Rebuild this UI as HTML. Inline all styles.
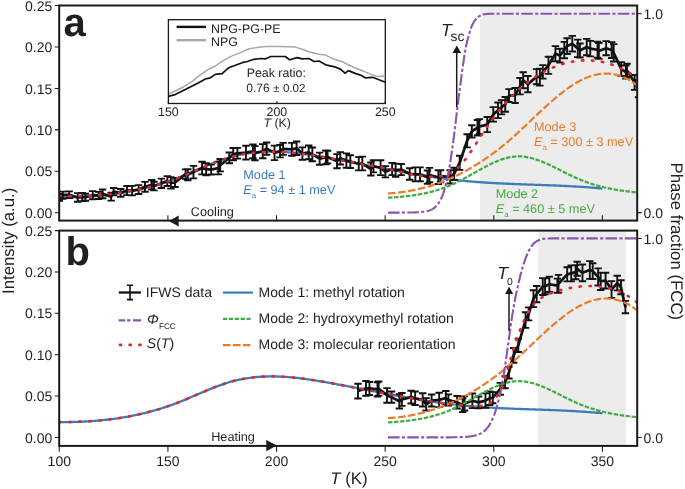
<!DOCTYPE html><html><head><meta charset="utf-8"><title>IFWS</title><style>html,body{margin:0;padding:0;background:#fff;}svg{display:block;will-change:transform;}text{text-rendering:geometricPrecision;font-family:"Liberation Sans",sans-serif;fill:#1f1f1f;}</style></head><body>
<svg width="685" height="489" viewBox="0 0 685 489">
<defs><clipPath id="ca"><rect x="59.2" y="5.5" width="578" height="215.1"/></clipPath><clipPath id="cb"><rect x="59.2" y="230.6" width="578" height="215.3"/></clipPath></defs>
<rect width="685" height="489" fill="#fff"/>
<rect x="480.0" y="5.5" width="157.2" height="215.1" fill="#ececec"/>
<rect x="538.2" y="230.6" width="87.8" height="215.3" fill="#ececec"/>
<g clip-path="url(#ca)"><path d="M59.30,197.39 L61.12,197.40 L62.93,197.40 L64.75,197.39 L66.57,197.38 L68.38,197.36 L70.20,197.33 L72.01,197.29 L73.83,197.25 L75.65,197.20 L77.46,197.14 L79.28,197.08 L81.10,197.00 L82.91,196.92 L84.73,196.83 L86.55,196.73 L88.36,196.62 L90.18,196.51 L91.99,196.38 L93.81,196.25 L95.63,196.11 L97.44,195.96 L99.26,195.80 L101.08,195.63 L102.89,195.45 L104.71,195.26 L106.53,195.06 L108.34,194.85 L110.16,194.63 L111.98,194.40 L113.79,194.15 L115.61,193.90 L117.42,193.64 L119.24,193.37 L121.06,193.08 L122.87,192.79 L124.69,192.48 L126.51,192.16 L128.32,191.83 L130.14,191.49 L131.96,191.14 L133.77,190.78 L135.59,190.40 L137.40,190.01 L139.22,189.61 L141.04,189.19 L142.85,188.77 L144.67,188.33 L146.49,187.87 L148.30,187.41 L150.12,186.93 L151.94,186.44 L153.75,185.93 L155.57,185.41 L157.38,184.88 L159.20,184.33 L161.02,183.77 L162.83,183.19 L164.65,182.60 L166.47,182.00 L168.28,181.38 L170.10,180.74 L171.92,180.10 L173.73,179.43 L175.55,178.75 L177.37,178.06 L179.18,177.35 L181.00,176.63 L182.81,175.89 L184.63,175.14 L186.45,174.39 L188.26,173.62 L190.08,172.85 L191.90,172.07 L193.71,171.29 L195.53,170.51 L197.35,169.73 L199.16,168.94 L200.98,168.16 L202.79,167.39 L204.61,166.62 L206.43,165.85 L208.24,165.10 L210.06,164.35 L211.88,163.61 L213.69,162.89 L215.51,162.18 L217.33,161.49 L219.14,160.81 L220.96,160.16 L222.77,159.52 L224.59,158.91 L226.41,158.31 L228.22,157.75 L230.04,157.20 L231.86,156.69 L233.67,156.20 L235.49,155.74 L237.31,155.31 L239.12,154.91 L240.94,154.53 L242.76,154.18 L244.57,153.85 L246.39,153.55 L248.20,153.27 L250.02,153.01 L251.84,152.78 L253.65,152.57 L255.47,152.38 L257.29,152.22 L259.10,152.08 L260.92,151.95 L262.74,151.85 L264.55,151.77 L266.37,151.71 L268.18,151.66 L270.00,151.64 L271.82,151.63 L273.63,151.64 L275.45,151.67 L277.27,151.72 L279.08,151.78 L280.90,151.86 L282.72,151.95 L284.53,152.05 L286.35,152.18 L288.16,152.31 L289.98,152.46 L291.80,152.62 L293.61,152.80 L295.43,152.98 L297.25,153.18 L299.06,153.39 L300.88,153.61 L302.70,153.84 L304.51,154.08 L306.33,154.33 L308.15,154.58 L309.96,154.85 L311.78,155.12 L313.59,155.40 L315.41,155.69 L317.23,155.98 L319.04,156.28 L320.86,156.59 L322.68,156.90 L324.49,157.21 L326.31,157.53 L328.13,157.85 L329.94,158.17 L331.76,158.50 L333.57,158.83 L335.39,159.16 L337.21,159.50 L339.02,159.83 L340.84,160.17 L342.66,160.51 L344.47,160.85 L346.29,161.20 L348.11,161.54 L349.92,161.89 L351.74,162.24 L353.55,162.58 L355.37,162.93 L357.19,163.28 L359.00,163.63 L360.82,163.98 L362.64,164.34 L364.45,164.69 L366.27,165.04 L368.09,165.39 L369.90,165.74 L371.72,166.10 L373.54,166.45 L375.35,166.80 L377.17,167.15 L378.98,167.50 L380.80,167.85 L382.62,168.20 L384.43,168.54 L386.25,168.89 L388.07,169.23 L389.88,169.58 L391.70,169.92 L393.52,170.26 L395.33,170.60 L397.15,170.93 L398.96,171.27 L400.78,171.60 L402.60,171.93 L404.41,172.26 L406.23,172.58 L408.05,172.91 L409.86,173.22 L411.68,173.54 L413.50,173.85 L415.31,174.17 L417.13,174.47 L418.94,174.78 L420.76,175.08 L422.58,175.37 L424.39,175.67 L426.21,175.95 L428.03,176.24 L429.84,176.52 L431.66,176.80 L433.48,177.07 L435.29,177.34 L437.11,177.60 L438.93,177.86 L440.74,178.11 L442.56,178.36 L444.37,178.60 L446.19,178.84 L448.01,179.07 L449.82,179.30 L451.64,179.52 L453.46,179.74 L455.27,179.95 L457.09,180.15 L458.91,180.35 L460.72,180.54 L462.54,180.73 L464.35,180.91 L466.17,181.08 L467.99,181.25 L469.80,181.41 L471.62,181.56 L473.44,181.71 L475.25,181.86 L477.07,182.00 L478.89,182.14 L480.70,182.27 L482.52,182.39 L484.33,182.51 L486.15,182.63 L487.97,182.75 L489.78,182.86 L491.60,182.96 L493.42,183.06 L495.23,183.16 L497.05,183.26 L498.87,183.35 L500.68,183.44 L502.50,183.52 L504.32,183.61 L506.13,183.69 L507.95,183.77 L509.76,183.84 L511.58,183.92 L513.40,183.99 L515.21,184.06 L517.03,184.13 L518.85,184.20 L520.66,184.27 L522.48,184.33 L524.30,184.40 L526.11,184.46 L527.93,184.53 L529.74,184.59 L531.56,184.65 L533.38,184.71 L535.19,184.78 L537.01,184.84 L538.83,184.90 L540.64,184.97 L542.46,185.03 L544.28,185.10 L546.09,185.16 L547.91,185.23 L549.72,185.30 L551.54,185.37 L553.36,185.44 L555.17,185.51 L556.99,185.59 L558.81,185.67 L560.62,185.75 L562.44,185.83 L564.26,185.91 L566.07,186.00 L567.89,186.09 L569.71,186.19 L571.52,186.28 L573.34,186.38 L575.15,186.49 L576.97,186.59 L578.79,186.70 L580.60,186.82 L582.42,186.94 L584.24,187.06 L586.05,187.19 L587.87,187.33 L589.69,187.46 L591.50,187.61 L593.32,187.75 L595.13,187.91 L596.95,188.07 L598.77,188.23 L600.58,188.40 L602.40,188.58" fill="none" stroke="#3a7bbd" stroke-width="2.3"/>
<path d="M59.30,197.45 L62.82,195.21 L69.22,194.66 L77.72,197.41 L82.24,197.09 L85.39,197.27 L92.75,195.21 L98.61,195.45 L102.62,193.90 L111.17,196.73 L113.65,191.67 L120.69,192.84 L126.96,190.56 L132.15,190.63 L138.58,189.52 L144.98,186.85 L151.72,184.72 L153.93,186.06 L161.41,183.30 L167.29,181.05 L170.87,182.87 L175.02,182.47 L185.59,174.12 L187.79,174.73 L193.50,172.10 L202.07,168.08 L206.14,169.20 L211.19,169.59 L218.36,168.03 L220.21,165.20 L229.28,157.87 L233.22,154.12 L237.41,153.29 L245.94,152.66 L252.95,151.39 L254.90,153.17 L262.68,151.21 L266.62,148.64 L274.51,152.86 L280.04,151.20 L283.11,148.91 L291.85,149.32 L296.61,148.27 L302.37,153.56 L308.70,152.35 L312.34,154.40 L319.65,158.69 L325.89,157.34 L327.57,157.02 L337.00,161.20 L340.32,158.32 L346.38,160.51 L350.32,161.64 L358.76,163.74 L362.32,163.54 L370.90,168.99 L373.50,166.29 L380.59,167.70 L385.39,171.75 L392.11,169.01 L395.62,170.21 L401.17,169.56 L409.68,173.98 L415.34,174.40 L420.03,174.36 L427.46,177.12 L429.46,175.01 L438.37,177.19 L440.53,176.20 L450.21,176.86 L454.11,173.90 L459.65,162.86 L467.13,140.77 L471.83,131.40 L477.47,127.70 L479.36,126.54 L487.26,124.57 L493.27,114.38 L498.01,110.36 L501.50,107.23 L505.26,104.37 L509.01,95.56 L515.12,95.51 L519.95,86.25 L523.15,80.22 L527.89,84.13 L536.61,76.67 L539.88,77.14 L542.85,71.89 L548.41,65.29 L555.41,53.70 L559.81,55.59 L564.31,50.07 L567.14,46.10 L572.28,43.71 L577.78,48.35 L579.92,50.49 L586.72,47.06 L590.25,48.63 L597.53,49.77 L598.83,50.96 L606.14,48.21 L611.67,50.05 L613.69,52.80 L621.22,69.09 L625.85,72.08 L626.99,70.35 L634.61,82.44 L638.46,88.82" fill="none" stroke="#111" stroke-width="2.7" stroke-linejoin="round"/>
<path d="M59.30,194.07V200.82M55.60,194.07h7.4M55.60,200.82h7.4M62.82,191.65V198.78M59.12,191.65h7.4M59.12,198.78h7.4M69.22,191.36V197.97M65.52,191.36h7.4M65.52,197.97h7.4M77.72,193.11V201.70M74.02,193.11h7.4M74.02,201.70h7.4M82.24,193.01V201.17M78.54,193.01h7.4M78.54,201.17h7.4M85.39,193.72V200.82M81.69,193.72h7.4M81.69,200.82h7.4M92.75,191.14V199.27M89.05,191.14h7.4M89.05,199.27h7.4M98.61,191.84V199.06M94.91,191.84h7.4M94.91,199.06h7.4M102.62,189.57V198.24M98.92,189.57h7.4M98.92,198.24h7.4M111.17,192.81V200.64M107.47,192.81h7.4M107.47,200.64h7.4M113.65,187.93V195.42M109.95,187.93h7.4M109.95,195.42h7.4M120.69,188.94V196.75M116.99,188.94h7.4M116.99,196.75h7.4M126.96,185.98V195.15M123.26,185.98h7.4M123.26,195.15h7.4M132.15,185.87V195.39M128.45,185.87h7.4M128.45,195.39h7.4M138.58,185.11V193.94M134.88,185.11h7.4M134.88,193.94h7.4M144.98,181.88V191.82M141.28,181.88h7.4M141.28,191.82h7.4M151.72,180.07V189.37M148.02,180.07h7.4M148.02,189.37h7.4M153.93,181.73V190.40M150.23,181.73h7.4M150.23,190.40h7.4M161.41,178.59V188.02M157.71,178.59h7.4M157.71,188.02h7.4M167.29,176.12V185.98M163.59,176.12h7.4M163.59,185.98h7.4M170.87,177.13V188.61M167.17,177.13h7.4M167.17,188.61h7.4M175.02,177.90V187.03M171.32,177.90h7.4M171.32,187.03h7.4M185.59,169.41V178.84M181.89,169.41h7.4M181.89,178.84h7.4M187.79,169.23V180.22M184.09,169.23h7.4M184.09,180.22h7.4M193.50,165.84V178.36M189.80,165.84h7.4M189.80,178.36h7.4M202.07,161.75V174.41M198.37,161.75h7.4M198.37,174.41h7.4M206.14,163.18V175.21M202.44,163.18h7.4M202.44,175.21h7.4M211.19,164.61V174.57M207.49,164.61h7.4M207.49,174.57h7.4M218.36,161.67V174.40M214.66,161.67h7.4M214.66,174.40h7.4M220.21,158.99V171.40M216.51,158.99h7.4M216.51,171.40h7.4M229.28,152.45V163.30M225.58,152.45h7.4M225.58,163.30h7.4M233.22,148.02V160.22M229.52,148.02h7.4M229.52,160.22h7.4M237.41,147.91V158.67M233.71,147.91h7.4M233.71,158.67h7.4M245.94,145.76V159.56M242.24,145.76h7.4M242.24,159.56h7.4M252.95,144.55V158.24M249.25,144.55h7.4M249.25,158.24h7.4M254.90,146.16V160.18M251.20,146.16h7.4M251.20,160.18h7.4M262.68,144.16V158.26M258.98,144.16h7.4M258.98,158.26h7.4M266.62,142.49V154.79M262.92,142.49h7.4M262.92,154.79h7.4M274.51,145.63V160.09M270.81,145.63h7.4M270.81,160.09h7.4M280.04,145.01V157.39M276.34,145.01h7.4M276.34,157.39h7.4M283.11,142.92V154.90M279.41,142.92h7.4M279.41,154.90h7.4M291.85,142.83V155.82M288.15,142.83h7.4M288.15,155.82h7.4M296.61,141.55V155.00M292.91,141.55h7.4M292.91,155.00h7.4M302.37,147.33V159.80M298.67,147.33h7.4M298.67,159.80h7.4M308.70,145.45V159.24M305.00,145.45h7.4M305.00,159.24h7.4M312.34,147.54V161.26M308.64,147.54h7.4M308.64,161.26h7.4M319.65,152.60V164.77M315.95,152.60h7.4M315.95,164.77h7.4M325.89,150.48V164.20M322.19,150.48h7.4M322.19,164.20h7.4M327.57,150.68V163.36M323.87,150.68h7.4M323.87,163.36h7.4M337.00,154.16V168.24M333.30,154.16h7.4M333.30,168.24h7.4M340.32,152.12V164.51M336.62,152.12h7.4M336.62,164.51h7.4M346.38,153.34V167.69M342.68,153.34h7.4M342.68,167.69h7.4M350.32,155.24V168.04M346.62,155.24h7.4M346.62,168.04h7.4M358.76,157.09V170.39M355.06,157.09h7.4M355.06,170.39h7.4M362.32,156.65V170.42M358.62,156.65h7.4M358.62,170.42h7.4M370.90,162.47V175.51M367.20,162.47h7.4M367.20,175.51h7.4M373.50,160.25V172.33M369.80,160.25h7.4M369.80,172.33h7.4M380.59,160.27V175.13M376.89,160.27h7.4M376.89,175.13h7.4M385.39,166.08V177.41M381.69,166.08h7.4M381.69,177.41h7.4M392.11,162.87V175.15M388.41,162.87h7.4M388.41,175.15h7.4M395.62,163.65V176.77M391.92,163.65h7.4M391.92,176.77h7.4M401.17,164.01V175.12M397.47,164.01h7.4M397.47,175.12h7.4M409.68,168.23V179.74M405.98,168.23h7.4M405.98,179.74h7.4M415.34,167.41V181.40M411.64,167.41h7.4M411.64,181.40h7.4M420.03,167.39V181.32M416.33,167.39h7.4M416.33,181.32h7.4M427.46,170.48V183.77M423.76,170.48h7.4M423.76,183.77h7.4M429.46,167.83V182.19M425.76,167.83h7.4M425.76,182.19h7.4M438.37,170.32V184.06M434.67,170.32h7.4M434.67,184.06h7.4M440.53,170.19V182.21M436.83,170.19h7.4M436.83,182.21h7.4M450.21,170.20V183.53M446.51,170.20h7.4M446.51,183.53h7.4M454.11,167.79V180.02M450.41,167.79h7.4M450.41,180.02h7.4M459.65,155.82V169.91M455.95,155.82h7.4M455.95,169.91h7.4M467.13,134.19V147.36M463.43,134.19h7.4M463.43,147.36h7.4M471.83,125.19V137.61M468.13,125.19h7.4M468.13,137.61h7.4M477.47,119.94V135.46M473.77,119.94h7.4M473.77,135.46h7.4M479.36,119.15V133.93M475.66,119.15h7.4M475.66,133.93h7.4M487.26,117.04V132.10M483.56,117.04h7.4M483.56,132.10h7.4M493.27,107.12V121.64M489.57,107.12h7.4M489.57,121.64h7.4M498.01,102.57V118.15M494.31,102.57h7.4M494.31,118.15h7.4M501.50,100.13V114.34M497.80,100.13h7.4M497.80,114.34h7.4M505.26,96.97V111.77M501.56,96.97h7.4M501.56,111.77h7.4M509.01,89.17V101.96M505.31,89.17h7.4M505.31,101.96h7.4M515.12,88.03V103.00M511.42,88.03h7.4M511.42,103.00h7.4M519.95,78.07V94.42M516.25,78.07h7.4M516.25,94.42h7.4M523.15,72.21V88.23M519.45,72.21h7.4M519.45,88.23h7.4M527.89,75.95V92.30M524.19,75.95h7.4M524.19,92.30h7.4M536.61,69.09V84.24M532.91,69.09h7.4M532.91,84.24h7.4M539.88,68.69V85.58M536.18,68.69h7.4M536.18,85.58h7.4M542.85,65.14V78.63M539.15,65.14h7.4M539.15,78.63h7.4M548.41,56.69V73.88M544.71,56.69h7.4M544.71,73.88h7.4M555.41,46.14V61.25M551.71,46.14h7.4M551.71,61.25h7.4M559.81,48.71V62.47M556.11,48.71h7.4M556.11,62.47h7.4M564.31,41.89V58.26M560.61,41.89h7.4M560.61,58.26h7.4M567.14,38.25V53.94M563.44,38.25h7.4M563.44,53.94h7.4M572.28,35.91V51.52M568.58,35.91h7.4M568.58,51.52h7.4M577.78,39.58V57.11M574.08,39.58h7.4M574.08,57.11h7.4M579.92,43.45V57.53M576.22,43.45h7.4M576.22,57.53h7.4M586.72,38.84V55.28M583.02,38.84h7.4M583.02,55.28h7.4M590.25,40.91V56.35M586.55,40.91h7.4M586.55,56.35h7.4M597.53,41.80V57.75M593.83,41.80h7.4M593.83,57.75h7.4M598.83,43.06V58.85M595.13,43.06h7.4M595.13,58.85h7.4M606.14,41.16V55.27M602.44,41.16h7.4M602.44,55.27h7.4M611.67,42.12V57.98M607.97,42.12h7.4M607.97,57.98h7.4M613.69,44.08V61.53M609.99,44.08h7.4M609.99,61.53h7.4M621.22,62.17V76.01M617.52,62.17h7.4M617.52,76.01h7.4M625.85,65.56V78.61M622.15,65.56h7.4M622.15,78.61h7.4M626.99,63.68V77.02M623.29,63.68h7.4M623.29,77.02h7.4M634.61,75.01V89.86M630.91,75.01h7.4M630.91,89.86h7.4M638.46,80.32V97.32M634.76,80.32h7.4M634.76,97.32h7.4" fill="none" stroke="#111" stroke-width="1.9"/>
<path d="M387.98,197.73 L389.03,197.66 L390.07,197.60 L391.11,197.53 L392.16,197.46 L393.20,197.39 L394.24,197.32 L395.29,197.24 L396.33,197.16 L397.37,197.08 L398.42,197.00 L399.46,196.91 L400.50,196.82 L401.55,196.72 L402.59,196.62 L403.63,196.52 L404.67,196.41 L405.72,196.30 L406.76,196.18 L407.80,196.06 L408.85,195.94 L409.89,195.80 L410.93,195.67 L411.98,195.53 L413.02,195.38 L414.06,195.23 L415.11,195.07 L416.15,194.91 L417.19,194.74 L418.24,194.57 L419.28,194.39 L420.32,194.20 L421.37,194.00 L422.41,193.80 L423.45,193.59 L424.49,193.38 L425.54,193.16 L426.58,192.93 L427.62,192.69 L428.67,192.44 L429.71,192.19 L430.75,191.93 L431.80,191.66 L432.84,191.39 L433.88,191.10 L434.93,190.81 L435.97,190.50 L437.01,190.19 L438.06,189.87 L439.10,189.54 L440.14,189.20 L441.19,188.85 L442.23,188.49 L443.27,188.12 L444.31,187.75 L445.36,187.36 L446.40,186.96 L447.44,186.55 L448.49,186.13 L449.53,185.70 L450.57,185.26 L451.62,184.80 L452.66,184.34 L453.70,183.86 L454.75,183.38 L455.79,182.88 L456.83,182.37 L457.88,181.85 L458.92,181.32 L459.96,180.79 L461.01,180.24 L462.05,179.69 L463.09,179.13 L464.13,178.57 L465.18,178.00 L466.22,177.42 L467.26,176.84 L468.31,176.26 L469.35,175.67 L470.39,175.08 L471.44,174.49 L472.48,173.90 L473.52,173.31 L474.57,172.72 L475.61,172.13 L476.65,171.54 L477.70,170.95 L478.74,170.37 L479.78,169.79 L480.83,169.21 L481.87,168.64 L482.91,168.07 L483.96,167.51 L485.00,166.95 L486.04,166.40 L487.08,165.86 L488.13,165.33 L489.17,164.81 L490.21,164.30 L491.26,163.79 L492.30,163.30 L493.34,162.82 L494.39,162.35 L495.43,161.90 L496.47,161.45 L497.52,161.02 L498.56,160.61 L499.60,160.21 L500.65,159.83 L501.69,159.46 L502.73,159.11 L503.78,158.78 L504.82,158.47 L505.86,158.18 L506.90,157.90 L507.95,157.65 L508.99,157.42 L510.03,157.20 L511.08,157.02 L512.12,156.85 L513.16,156.71 L514.21,156.59 L515.25,156.49 L516.29,156.43 L517.34,156.38 L518.38,156.37 L519.42,156.38 L520.47,156.41 L521.51,156.47 L522.55,156.55 L523.60,156.66 L524.64,156.78 L525.68,156.93 L526.72,157.10 L527.77,157.30 L528.81,157.51 L529.85,157.74 L530.90,157.99 L531.94,158.26 L532.98,158.54 L534.03,158.85 L535.07,159.17 L536.11,159.50 L537.16,159.85 L538.20,160.21 L539.24,160.59 L540.29,160.98 L541.33,161.39 L542.37,161.80 L543.42,162.23 L544.46,162.67 L545.50,163.12 L546.54,163.58 L547.59,164.04 L548.63,164.52 L549.67,165.00 L550.72,165.49 L551.76,165.99 L552.80,166.49 L553.85,167.00 L554.89,167.51 L555.93,168.03 L556.98,168.55 L558.02,169.07 L559.06,169.59 L560.11,170.12 L561.15,170.64 L562.19,171.17 L563.24,171.70 L564.28,172.22 L565.32,172.75 L566.36,173.27 L567.41,173.79 L568.45,174.30 L569.49,174.81 L570.54,175.32 L571.58,175.82 L572.62,176.32 L573.67,176.80 L574.71,177.29 L575.75,177.76 L576.80,178.23 L577.84,178.68 L578.88,179.13 L579.93,179.57 L580.97,179.99 L582.01,180.41 L583.06,180.82 L584.10,181.22 L585.14,181.61 L586.19,181.99 L587.23,182.37 L588.27,182.73 L589.31,183.09 L590.36,183.43 L591.40,183.77 L592.44,184.10 L593.49,184.43 L594.53,184.74 L595.57,185.05 L596.62,185.35 L597.66,185.64 L598.70,185.93 L599.75,186.21 L600.79,186.48 L601.83,186.74 L602.88,187.00 L603.92,187.25 L604.96,187.49 L606.01,187.73 L607.05,187.96 L608.09,188.19 L609.13,188.40 L610.18,188.62 L611.22,188.82 L612.26,189.02 L613.31,189.22 L614.35,189.41 L615.39,189.60 L616.44,189.78 L617.48,189.95 L618.52,190.12 L619.57,190.29 L620.61,190.45 L621.65,190.60 L622.70,190.75 L623.74,190.90 L624.78,191.05 L625.83,191.18 L626.87,191.32 L627.91,191.45 L628.95,191.58 L630.00,191.70 L631.04,191.83 L632.08,191.94 L633.13,192.06 L634.17,192.17 L635.21,192.28 L636.26,192.39 L637.30,192.49" fill="none" stroke="#41ac41" stroke-width="2.2" stroke-dasharray="4.5 1.5"/>
<path d="M387.98,193.42 L389.03,193.36 L390.07,193.30 L391.11,193.23 L392.16,193.15 L393.20,193.07 L394.24,192.98 L395.29,192.88 L396.33,192.78 L397.37,192.67 L398.42,192.55 L399.46,192.43 L400.50,192.31 L401.55,192.17 L402.59,192.03 L403.63,191.88 L404.67,191.73 L405.72,191.57 L406.76,191.41 L407.80,191.23 L408.85,191.05 L409.89,190.87 L410.93,190.68 L411.98,190.48 L413.02,190.27 L414.06,190.06 L415.11,189.84 L416.15,189.62 L417.19,189.39 L418.24,189.15 L419.28,188.90 L420.32,188.65 L421.37,188.39 L422.41,188.13 L423.45,187.85 L424.49,187.57 L425.54,187.29 L426.58,187.00 L427.62,186.70 L428.67,186.39 L429.71,186.08 L430.75,185.76 L431.80,185.43 L432.84,185.09 L433.88,184.75 L434.93,184.41 L435.97,184.05 L437.01,183.69 L438.06,183.32 L439.10,182.94 L440.14,182.56 L441.19,182.17 L442.23,181.77 L443.27,181.37 L444.31,180.96 L445.36,180.54 L446.40,180.11 L447.44,179.68 L448.49,179.24 L449.53,178.79 L450.57,178.33 L451.62,177.87 L452.66,177.40 L453.70,176.92 L454.75,176.44 L455.79,175.95 L456.83,175.45 L457.88,174.94 L458.92,174.43 L459.96,173.91 L461.01,173.38 L462.05,172.84 L463.09,172.30 L464.13,171.75 L465.18,171.19 L466.22,170.62 L467.26,170.05 L468.31,169.47 L469.35,168.88 L470.39,168.28 L471.44,167.67 L472.48,167.06 L473.52,166.44 L474.57,165.81 L475.61,165.18 L476.65,164.54 L477.70,163.88 L478.74,163.23 L479.78,162.56 L480.83,161.89 L481.87,161.20 L482.91,160.51 L483.96,159.81 L485.00,159.11 L486.04,158.40 L487.08,157.67 L488.13,156.94 L489.17,156.21 L490.21,155.46 L491.26,154.71 L492.30,153.94 L493.34,153.17 L494.39,152.40 L495.43,151.61 L496.47,150.82 L497.52,150.01 L498.56,149.20 L499.60,148.39 L500.65,147.56 L501.69,146.72 L502.73,145.88 L503.78,145.03 L504.82,144.17 L505.86,143.30 L506.90,142.43 L507.95,141.54 L508.99,140.65 L510.03,139.75 L511.08,138.84 L512.12,137.92 L513.16,136.99 L514.21,136.06 L515.25,135.12 L516.29,134.18 L517.34,133.23 L518.38,132.27 L519.42,131.31 L520.47,130.35 L521.51,129.38 L522.55,128.40 L523.60,127.43 L524.64,126.45 L525.68,125.47 L526.72,124.48 L527.77,123.49 L528.81,122.51 L529.85,121.52 L530.90,120.53 L531.94,119.54 L532.98,118.55 L534.03,117.56 L535.07,116.57 L536.11,115.59 L537.16,114.60 L538.20,113.62 L539.24,112.64 L540.29,111.67 L541.33,110.69 L542.37,109.72 L543.42,108.76 L544.46,107.80 L545.50,106.84 L546.54,105.89 L547.59,104.95 L548.63,104.01 L549.67,103.08 L550.72,102.16 L551.76,101.24 L552.80,100.33 L553.85,99.43 L554.89,98.54 L555.93,97.66 L556.98,96.79 L558.02,95.92 L559.06,95.07 L560.11,94.23 L561.15,93.40 L562.19,92.58 L563.24,91.77 L564.28,90.97 L565.32,90.19 L566.36,89.42 L567.41,88.67 L568.45,87.92 L569.49,87.20 L570.54,86.48 L571.58,85.78 L572.62,85.10 L573.67,84.44 L574.71,83.79 L575.75,83.15 L576.80,82.54 L577.84,81.94 L578.88,81.36 L579.93,80.79 L580.97,80.25 L582.01,79.72 L583.06,79.22 L584.10,78.73 L585.14,78.27 L586.19,77.83 L587.23,77.40 L588.27,77.00 L589.31,76.62 L590.36,76.26 L591.40,75.92 L592.44,75.60 L593.49,75.31 L594.53,75.03 L595.57,74.78 L596.62,74.55 L597.66,74.35 L598.70,74.17 L599.75,74.01 L600.79,73.87 L601.83,73.76 L602.88,73.67 L603.92,73.61 L604.96,73.57 L606.01,73.55 L607.05,73.56 L608.09,73.60 L609.13,73.65 L610.18,73.74 L611.22,73.85 L612.26,73.99 L613.31,74.15 L614.35,74.34 L615.39,74.55 L616.44,74.79 L617.48,75.06 L618.52,75.35 L619.57,75.67 L620.61,76.02 L621.65,76.40 L622.70,76.80 L623.74,77.24 L624.78,77.70 L625.83,78.19 L626.87,78.71 L627.91,79.25 L628.95,79.83 L630.00,80.43 L631.04,81.07 L632.08,81.73 L633.13,82.43 L634.17,83.15 L635.21,83.91 L636.26,84.69 L637.30,85.51" fill="none" stroke="#ea7d2c" stroke-width="2.2" stroke-dasharray="7.6 2.5"/>
<path d="M387.98,212.60 L389.03,212.60 L390.07,212.60 L391.11,212.60 L392.16,212.60 L393.20,212.59 L394.24,212.59 L395.29,212.59 L396.33,212.59 L397.37,212.59 L398.42,212.59 L399.46,212.58 L400.50,212.58 L401.55,212.58 L402.59,212.57 L403.63,212.57 L404.67,212.56 L405.72,212.56 L406.76,212.55 L407.80,212.54 L408.85,212.53 L409.89,212.51 L410.93,212.50 L411.98,212.48 L413.02,212.45 L414.06,212.43 L415.11,212.39 L416.15,212.35 L417.19,212.31 L418.24,212.25 L419.28,212.19 L420.32,212.11 L421.37,212.02 L422.41,211.91 L423.45,211.78 L424.49,211.63 L425.54,211.45 L426.58,211.24 L427.62,210.98 L428.67,210.68 L429.71,210.33 L430.75,209.91 L431.80,209.41 L432.84,208.83 L433.88,208.15 L434.93,207.33 L435.97,206.37 L437.01,205.26 L438.06,203.94 L439.10,202.40 L440.14,200.63 L441.19,198.52 L442.23,196.10 L443.27,193.35 L444.31,190.13 L445.36,186.46 L446.40,182.37 L447.44,177.67 L448.49,172.42 L449.53,166.72 L450.57,160.39 L451.62,153.47 L452.66,146.15 L453.70,138.23 L454.75,129.79 L455.79,121.10 L456.83,112.47 L457.88,104.07 L458.92,95.68 L459.96,87.48 L461.01,79.51 L462.05,71.74 L463.09,64.45 L464.13,57.48 L465.18,50.99 L466.22,45.53 L467.26,41.08 L468.31,37.15 L469.35,33.30 L470.39,29.76 L471.44,26.96 L472.48,24.53 L473.52,22.45 L474.57,20.80 L475.61,19.47 L476.65,18.28 L477.70,17.27 L478.74,16.46 L479.78,15.84 L480.83,15.32 L481.87,14.87 L482.91,14.51 L483.96,14.26 L485.00,14.13 L486.04,14.03 L487.08,13.94 L488.13,13.87 L489.17,13.82 L490.21,13.80 L491.26,13.80 L492.30,13.80 L493.34,13.80 L494.39,13.80 L495.43,13.80 L496.47,13.80 L497.52,13.80 L498.56,13.80 L499.60,13.80 L500.65,13.80 L501.69,13.80 L502.73,13.80 L503.78,13.80 L504.82,13.80 L505.86,13.80 L506.90,13.80 L507.95,13.80 L508.99,13.80 L510.03,13.80 L511.08,13.80 L512.12,13.80 L513.16,13.80 L514.21,13.80 L515.25,13.80 L516.29,13.80 L517.34,13.80 L518.38,13.80 L519.42,13.80 L520.47,13.80 L521.51,13.80 L522.55,13.80 L523.60,13.80 L524.64,13.80 L525.68,13.80 L526.72,13.80 L527.77,13.80 L528.81,13.80 L529.85,13.80 L530.90,13.80 L531.94,13.80 L532.98,13.80 L534.03,13.80 L535.07,13.80 L536.11,13.80 L537.16,13.80 L538.20,13.80 L539.24,13.80 L540.29,13.80 L541.33,13.80 L542.37,13.80 L543.42,13.80 L544.46,13.80 L545.50,13.80 L546.54,13.80 L547.59,13.80 L548.63,13.80 L549.67,13.80 L550.72,13.80 L551.76,13.80 L552.80,13.80 L553.85,13.80 L554.89,13.80 L555.93,13.80 L556.98,13.80 L558.02,13.80 L559.06,13.80 L560.11,13.80 L561.15,13.80 L562.19,13.80 L563.24,13.80 L564.28,13.80 L565.32,13.80 L566.36,13.80 L567.41,13.80 L568.45,13.80 L569.49,13.80 L570.54,13.80 L571.58,13.80 L572.62,13.80 L573.67,13.80 L574.71,13.80 L575.75,13.80 L576.80,13.80 L577.84,13.80 L578.88,13.80 L579.93,13.80 L580.97,13.80 L582.01,13.80 L583.06,13.80 L584.10,13.80 L585.14,13.80 L586.19,13.80 L587.23,13.80 L588.27,13.80 L589.31,13.80 L590.36,13.80 L591.40,13.80 L592.44,13.80 L593.49,13.80 L594.53,13.80 L595.57,13.80 L596.62,13.80 L597.66,13.80 L598.70,13.80 L599.75,13.80 L600.79,13.80 L601.83,13.80 L602.88,13.80 L603.92,13.80 L604.96,13.80 L606.01,13.80 L607.05,13.80 L608.09,13.80 L609.13,13.80 L610.18,13.80 L611.22,13.80 L612.26,13.80 L613.31,13.80 L614.35,13.80 L615.39,13.80 L616.44,13.80 L617.48,13.80 L618.52,13.80 L619.57,13.80 L620.61,13.80 L621.65,13.80 L622.70,13.80 L623.74,13.80 L624.78,13.80 L625.83,13.80 L626.87,13.80 L627.91,13.80 L628.95,13.80 L630.00,13.80 L631.04,13.80 L632.08,13.80 L633.13,13.80 L634.17,13.80 L635.21,13.80 L636.26,13.80 L637.30,13.80" fill="none" stroke="#8a55b0" stroke-width="2.1" stroke-dasharray="11.6 2.3 3.1 2.3"/>
<path d="M59.30,196.14 L60.46,196.15 L61.62,196.17 L62.77,196.18 L63.93,196.19 L65.09,196.20 L66.25,196.21 L67.41,196.21 L68.57,196.21 L69.72,196.20 L70.88,196.20 L72.04,196.19 L73.20,196.18 L74.36,196.16 L75.52,196.14 L76.67,196.12 L77.83,196.10 L78.99,196.07 L80.15,196.04 L81.31,196.00 L82.47,195.97 L83.62,195.93 L84.78,195.88 L85.94,195.84 L87.10,195.79 L88.26,195.73 L89.42,195.67 L90.57,195.61 L91.73,195.55 L92.89,195.48 L94.05,195.41 L95.21,195.33 L96.37,195.25 L97.52,195.17 L98.68,195.08 L99.84,194.99 L101.00,194.90 L102.16,194.80 L103.32,194.70 L104.47,194.59 L105.63,194.48 L106.79,194.37 L107.95,194.25 L109.11,194.12 L110.27,194.00 L111.42,193.87 L112.58,193.73 L113.74,193.59 L114.90,193.45 L116.06,193.30 L117.22,193.14 L118.37,192.99 L119.53,192.82 L120.69,192.66 L121.85,192.49 L123.01,192.31 L124.17,192.13 L125.32,191.94 L126.48,191.75 L127.64,191.56 L128.80,191.36 L129.96,191.15 L131.12,190.94 L132.27,190.73 L133.43,190.51 L134.59,190.29 L135.75,190.06 L136.91,189.82 L138.07,189.58 L139.22,189.34 L140.38,189.09 L141.54,188.83 L142.70,188.57 L143.86,188.30 L145.02,188.03 L146.17,187.76 L147.33,187.47 L148.49,187.19 L149.65,186.89 L150.81,186.59 L151.97,186.29 L153.12,185.98 L154.28,185.66 L155.44,185.34 L156.60,185.01 L157.76,184.68 L158.92,184.34 L160.07,184.00 L161.23,183.65 L162.39,183.29 L163.55,182.93 L164.71,182.56 L165.87,182.18 L167.02,181.80 L168.18,181.42 L169.34,181.02 L170.50,180.63 L171.66,180.22 L172.82,179.81 L173.97,179.39 L175.13,178.97 L176.29,178.53 L177.45,178.10 L178.61,177.65 L179.76,177.20 L180.92,176.75 L182.08,176.29 L183.24,175.82 L184.40,175.35 L185.56,174.88 L186.71,174.40 L187.87,173.92 L189.03,173.43 L190.19,172.95 L191.35,172.46 L192.51,171.97 L193.66,171.47 L194.82,170.98 L195.98,170.48 L197.14,169.99 L198.30,169.49 L199.46,169.00 L200.61,168.50 L201.77,168.01 L202.93,167.52 L204.09,167.03 L205.25,166.54 L206.41,166.06 L207.56,165.58 L208.72,165.10 L209.88,164.62 L211.04,164.15 L212.20,163.69 L213.36,163.23 L214.51,162.77 L215.67,162.33 L216.83,161.88 L217.99,161.45 L219.15,161.02 L220.31,160.60 L221.46,160.18 L222.62,159.78 L223.78,159.38 L224.94,158.99 L226.10,158.61 L227.26,158.24 L228.41,157.89 L229.57,157.54 L230.73,157.20 L231.89,156.87 L233.05,156.56 L234.21,156.25 L235.36,155.96 L236.52,155.68 L237.68,155.41 L238.84,155.15 L240.00,154.90 L241.16,154.66 L242.31,154.43 L243.47,154.21 L244.63,154.00 L245.79,153.80 L246.95,153.61 L248.11,153.44 L249.26,153.27 L250.42,153.11 L251.58,152.96 L252.74,152.81 L253.90,152.68 L255.06,152.56 L256.21,152.45 L257.37,152.34 L258.53,152.24 L259.69,152.16 L260.85,152.08 L262.01,152.01 L263.16,151.94 L264.32,151.89 L265.48,151.84 L266.64,151.80 L267.80,151.77 L268.96,151.75 L270.11,151.73 L271.27,151.72 L272.43,151.72 L273.59,151.73 L274.75,151.74 L275.91,151.76 L277.06,151.79 L278.22,151.82 L279.38,151.86 L280.54,151.91 L281.70,151.96 L282.86,152.02 L284.01,152.08 L285.17,152.15 L286.33,152.23 L287.49,152.31 L288.65,152.40 L289.81,152.50 L290.96,152.59 L292.12,152.70 L293.28,152.81 L294.44,152.92 L295.60,153.04 L296.75,153.16 L297.91,153.29 L299.07,153.42 L300.23,153.56 L301.39,153.70 L302.55,153.85 L303.70,154.00 L304.86,154.15 L306.02,154.31 L307.18,154.47 L308.34,154.63 L309.50,154.80 L310.65,154.97 L311.81,155.15 L312.97,155.32 L314.13,155.50 L315.29,155.68 L316.45,155.87 L317.60,156.06 L318.76,156.25 L319.92,156.44 L321.08,156.63 L322.24,156.83 L323.40,157.03 L324.55,157.23 L325.71,157.43 L326.87,157.64 L328.03,157.84 L329.19,158.05 L330.35,158.25 L331.50,158.46 L332.66,158.67 L333.82,158.88 L334.98,159.09 L336.14,159.31 L337.30,159.52 L338.45,159.73 L339.61,159.95 L340.77,160.16 L341.93,160.38 L343.09,160.60 L344.25,160.81 L345.40,161.03 L346.56,161.25 L347.72,161.47 L348.88,161.69 L350.04,161.91 L351.20,162.13 L352.35,162.35 L353.51,162.58 L354.67,162.80 L355.83,163.02 L356.99,163.24 L358.15,163.47 L359.30,163.69 L360.46,163.92 L361.62,164.14 L362.78,164.36 L363.94,165.15 L365.10,165.21 L366.25,165.28 L367.41,165.36 L368.57,165.46 L369.73,165.57 L370.89,165.70 L372.05,165.84 L373.20,165.99 L374.36,166.15 L375.52,166.33 L376.68,166.51 L377.84,166.71 L379.00,166.91 L380.15,167.13 L381.31,167.35 L382.47,167.58 L383.63,167.82 L384.79,168.06 L385.95,168.31 L387.10,168.57 L388.26,168.83 L389.42,169.09 L390.58,169.36 L391.74,169.63 L392.90,169.91 L394.05,170.19 L395.21,170.47 L396.37,170.75 L397.53,171.03 L398.69,171.31 L399.85,171.59 L401.00,171.86 L402.16,172.14 L403.32,172.41 L404.48,172.68 L405.64,172.95 L406.79,173.22 L407.95,173.47 L409.11,173.73 L410.27,173.98 L411.43,174.22 L412.59,174.45 L413.74,174.68 L414.90,174.90 L416.06,175.11 L417.22,175.31 L418.38,175.50 L419.54,175.68 L420.69,175.85 L421.85,176.01 L423.01,176.16 L424.17,176.29 L425.33,176.41 L426.49,176.52 L427.64,176.61 L428.80,176.69 L429.96,176.75 L431.12,176.80 L432.28,176.82 L433.44,176.83 L434.59,176.80 L435.75,176.75 L436.91,176.67 L438.07,176.56 L439.23,176.42 L440.39,176.24 L441.54,176.02 L442.70,175.77 L443.86,175.46 L445.02,175.12 L446.18,174.73 L447.34,174.29 L448.49,173.79 L449.65,173.25 L450.81,172.64 L451.97,171.98 L453.13,171.26 L454.29,170.48 L455.44,169.63 L456.60,168.71 L457.76,167.73 L458.92,166.67 L460.08,165.54 L461.24,164.33 L462.39,163.05 L463.55,161.68 L464.71,160.25 L465.87,158.74 L467.03,157.18 L468.19,155.56 L469.34,153.90 L470.50,152.20 L471.66,150.46 L472.82,148.69 L473.98,146.91 L475.14,145.11 L476.29,143.30 L477.45,141.48 L478.61,139.66 L479.77,137.84 L480.93,136.03 L482.09,134.23 L483.24,132.45 L484.40,130.69 L485.56,128.96 L486.72,127.25 L487.88,125.57 L489.04,123.91 L490.19,122.28 L491.35,120.68 L492.51,119.10 L493.67,117.54 L494.83,116.01 L495.99,114.51 L497.14,113.03 L498.30,111.57 L499.46,110.14 L500.62,108.73 L501.78,107.34 L502.94,105.98 L504.09,104.65 L505.25,103.33 L506.41,102.04 L507.57,100.77 L508.73,99.53 L509.89,98.31 L511.04,97.11 L512.20,95.93 L513.36,94.78 L514.52,93.64 L515.68,92.53 L516.84,91.44 L517.99,90.38 L519.15,89.33 L520.31,88.31 L521.47,87.30 L522.63,86.32 L523.78,85.36 L524.94,84.42 L526.10,83.50 L527.26,82.60 L528.42,81.72 L529.58,80.85 L530.73,80.01 L531.89,79.19 L533.05,78.39 L534.21,77.61 L535.37,76.85 L536.53,76.10 L537.68,75.38 L538.84,74.67 L540.00,73.98 L541.16,73.31 L542.32,72.66 L543.48,72.02 L544.63,71.41 L545.79,70.81 L546.95,70.23 L548.11,69.66 L549.27,69.12 L550.43,68.59 L551.58,68.07 L552.74,67.58 L553.90,67.10 L555.06,66.63 L556.22,66.19 L557.38,65.75 L558.53,65.34 L559.69,64.94 L560.85,64.56 L562.01,64.19 L563.17,63.84 L564.33,63.50 L565.48,63.18 L566.64,62.88 L567.80,62.59 L568.96,62.32 L570.12,62.07 L571.28,61.83 L572.43,61.61 L573.59,61.41 L574.75,61.22 L575.91,61.05 L577.07,60.90 L578.23,60.76 L579.38,60.64 L580.54,60.54 L581.70,60.46 L582.86,60.39 L584.02,60.34 L585.18,60.31 L586.33,60.30 L587.49,60.30 L588.65,60.32 L589.81,60.36 L590.97,60.42 L592.13,60.49 L593.28,60.58 L594.44,60.69 L595.60,60.82 L596.76,60.97 L597.92,61.13 L599.08,61.32 L600.23,61.52 L601.39,61.74 L602.55,61.98 L603.71,62.24 L604.87,62.51 L606.03,62.81 L607.18,63.12 L608.34,63.45 L609.50,63.81 L610.66,64.18 L611.82,64.57 L612.98,64.98 L614.13,65.40 L615.29,65.85 L616.45,66.32 L617.61,66.81 L618.77,67.31 L619.93,67.84 L621.08,68.39 L622.24,68.95 L623.40,69.54 L624.56,70.14 L625.72,70.77 L626.88,71.41 L628.03,72.08 L629.19,72.77 L630.35,73.47 L631.51,74.20 L632.67,74.95 L633.83,75.71 L634.98,76.50 L636.14,77.31 L637.30,78.14" fill="none" stroke="#e3262a" stroke-width="2.6" stroke-linecap="round" stroke-dasharray="1.4 8.6"/></g>
<g clip-path="url(#cb)"><path d="M59.30,422.08 L61.12,422.08 L62.93,422.08 L64.75,422.08 L66.57,422.06 L68.38,422.04 L70.20,422.01 L72.01,421.98 L73.83,421.93 L75.65,421.88 L77.46,421.83 L79.28,421.76 L81.10,421.69 L82.91,421.60 L84.73,421.51 L86.55,421.42 L88.36,421.31 L90.18,421.19 L91.99,421.07 L93.81,420.94 L95.63,420.79 L97.44,420.64 L99.26,420.48 L101.08,420.31 L102.89,420.13 L104.71,419.94 L106.53,419.74 L108.34,419.53 L110.16,419.31 L111.98,419.08 L113.79,418.84 L115.61,418.59 L117.42,418.33 L119.24,418.06 L121.06,417.78 L122.87,417.48 L124.69,417.18 L126.51,416.86 L128.32,416.53 L130.14,416.19 L131.96,415.84 L133.77,415.47 L135.59,415.10 L137.40,414.71 L139.22,414.31 L141.04,413.89 L142.85,413.47 L144.67,413.03 L146.49,412.58 L148.30,412.11 L150.12,411.63 L151.94,411.14 L153.75,410.64 L155.57,410.12 L157.38,409.59 L159.20,409.04 L161.02,408.48 L162.83,407.91 L164.65,407.32 L166.47,406.71 L168.28,406.10 L170.10,405.46 L171.92,404.82 L173.73,404.15 L175.55,403.48 L177.37,402.78 L179.18,402.08 L181.00,401.35 L182.81,400.62 L184.63,399.87 L186.45,399.12 L188.26,398.36 L190.08,397.59 L191.90,396.81 L193.71,396.03 L195.53,395.25 L197.35,394.47 L199.16,393.69 L200.98,392.91 L202.79,392.14 L204.61,391.37 L206.43,390.60 L208.24,389.85 L210.06,389.10 L211.88,388.37 L213.69,387.65 L215.51,386.94 L217.33,386.25 L219.14,385.58 L220.96,384.92 L222.77,384.29 L224.59,383.67 L226.41,383.08 L228.22,382.51 L230.04,381.97 L231.86,381.46 L233.67,380.98 L235.49,380.52 L237.31,380.09 L239.12,379.68 L240.94,379.31 L242.76,378.95 L244.57,378.63 L246.39,378.32 L248.20,378.05 L250.02,377.79 L251.84,377.56 L253.65,377.35 L255.47,377.16 L257.29,377.00 L259.10,376.86 L260.92,376.74 L262.74,376.63 L264.55,376.55 L266.37,376.49 L268.18,376.45 L270.00,376.42 L271.82,376.42 L273.63,376.43 L275.45,376.45 L277.27,376.50 L279.08,376.56 L280.90,376.64 L282.72,376.73 L284.53,376.84 L286.35,376.96 L288.16,377.09 L289.98,377.24 L291.80,377.40 L293.61,377.58 L295.43,377.76 L297.25,377.96 L299.06,378.17 L300.88,378.39 L302.70,378.62 L304.51,378.85 L306.33,379.10 L308.15,379.36 L309.96,379.62 L311.78,379.90 L313.59,380.18 L315.41,380.46 L317.23,380.76 L319.04,381.05 L320.86,381.36 L322.68,381.67 L324.49,381.98 L326.31,382.30 L328.13,382.62 L329.94,382.94 L331.76,383.27 L333.57,383.60 L335.39,383.93 L337.21,384.26 L339.02,384.60 L340.84,384.94 L342.66,385.28 L344.47,385.62 L346.29,385.96 L348.11,386.30 L349.92,386.65 L351.74,387.00 L353.55,387.34 L355.37,387.69 L357.19,388.04 L359.00,388.39 L360.82,388.74 L362.64,389.09 L364.45,389.44 L366.27,389.79 L368.09,390.14 L369.90,390.50 L371.72,390.85 L373.54,391.20 L375.35,391.55 L377.17,391.90 L378.98,392.25 L380.80,392.60 L382.62,392.94 L384.43,393.29 L386.25,393.63 L388.07,393.98 L389.88,394.32 L391.70,394.66 L393.52,395.00 L395.33,395.34 L397.15,395.67 L398.96,396.01 L400.78,396.34 L402.60,396.67 L404.41,397.00 L406.23,397.32 L408.05,397.64 L409.86,397.96 L411.68,398.28 L413.50,398.59 L415.31,398.90 L417.13,399.21 L418.94,399.51 L420.76,399.81 L422.58,400.10 L424.39,400.40 L426.21,400.68 L428.03,400.97 L429.84,401.25 L431.66,401.53 L433.48,401.80 L435.29,402.06 L437.11,402.33 L438.93,402.58 L440.74,402.84 L442.56,403.08 L444.37,403.33 L446.19,403.56 L448.01,403.80 L449.82,404.02 L451.64,404.24 L453.46,404.46 L455.27,404.67 L457.09,404.87 L458.91,405.07 L460.72,405.26 L462.54,405.45 L464.35,405.63 L466.17,405.80 L467.99,405.97 L469.80,406.13 L471.62,406.28 L473.44,406.43 L475.25,406.58 L477.07,406.72 L478.89,406.85 L480.70,406.98 L482.52,407.11 L484.33,407.23 L486.15,407.35 L487.97,407.46 L489.78,407.57 L491.60,407.68 L493.42,407.78 L495.23,407.88 L497.05,407.97 L498.87,408.06 L500.68,408.15 L502.50,408.24 L504.32,408.32 L506.13,408.40 L507.95,408.48 L509.76,408.56 L511.58,408.63 L513.40,408.70 L515.21,408.78 L517.03,408.84 L518.85,408.91 L520.66,408.98 L522.48,409.04 L524.30,409.11 L526.11,409.17 L527.93,409.24 L529.74,409.30 L531.56,409.36 L533.38,409.42 L535.19,409.49 L537.01,409.55 L538.83,409.61 L540.64,409.68 L542.46,409.74 L544.28,409.81 L546.09,409.87 L547.91,409.94 L549.72,410.01 L551.54,410.08 L553.36,410.15 L555.17,410.22 L556.99,410.30 L558.81,410.38 L560.62,410.45 L562.44,410.54 L564.26,410.62 L566.07,410.71 L567.89,410.80 L569.71,410.89 L571.52,410.99 L573.34,411.09 L575.15,411.19 L576.97,411.30 L578.79,411.41 L580.60,411.53 L582.42,411.65 L584.24,411.77 L586.05,411.90 L587.87,412.03 L589.69,412.17 L591.50,412.31 L593.32,412.46 L595.13,412.61 L596.95,412.77 L598.77,412.93 L600.58,413.10 L602.40,413.28" fill="none" stroke="#3a7bbd" stroke-width="2.3"/>
<path d="M358.01,391.09 L365.95,388.39 L369.45,388.43 L377.50,389.43 L378.64,388.56 L387.01,395.41 L391.53,397.18 L399.38,401.37 L401.88,399.44 L411.12,397.12 L415.15,398.23 L422.66,399.87 L426.19,404.32 L431.64,400.52 L439.16,399.92 L445.84,398.06 L448.41,399.98 L457.15,402.27 L462.64,405.32 L464.51,403.45 L472.39,400.80 L478.57,402.37 L485.47,400.57 L489.76,398.21 L492.74,397.70 L500.30,388.83 L505.09,382.21 L508.91,372.57 L513.65,355.35 L518.31,345.30 L525.52,320.08 L528.66,313.86 L533.47,298.65 L536.66,294.11 L542.76,286.51 L545.06,286.23 L549.39,284.29 L557.38,285.67 L558.48,283.74 L567.19,274.33 L571.19,273.38 L575.65,272.16 L577.18,268.77 L582.49,272.85 L589.82,270.02 L592.70,271.13 L598.16,276.99 L600.67,281.28 L605.57,280.62 L611.51,289.54 L617.25,283.02 L620.96,287.25 L625.43,307.12" fill="none" stroke="#111" stroke-width="2.7" stroke-linejoin="round"/>
<path d="M358.01,383.70V398.47M354.31,383.70h7.4M354.31,398.47h7.4M365.95,380.98V395.81M362.25,380.98h7.4M362.25,395.81h7.4M369.45,381.93V394.93M365.75,381.93h7.4M365.75,394.93h7.4M377.50,382.30V396.55M373.80,382.30h7.4M373.80,396.55h7.4M378.64,381.54V395.58M374.94,381.54h7.4M374.94,395.58h7.4M387.01,388.08V402.74M383.31,388.08h7.4M383.31,402.74h7.4M391.53,391.55V402.81M387.83,391.55h7.4M387.83,402.81h7.4M399.38,394.21V408.52M395.68,394.21h7.4M395.68,408.52h7.4M401.88,393.03V405.85M398.18,393.03h7.4M398.18,405.85h7.4M411.12,390.78V403.46M407.42,390.78h7.4M407.42,403.46h7.4M415.15,391.44V405.01M411.45,391.44h7.4M411.45,405.01h7.4M422.66,393.24V406.50M418.96,393.24h7.4M418.96,406.50h7.4M426.19,398.09V410.56M422.49,398.09h7.4M422.49,410.56h7.4M431.64,394.53V406.52M427.94,394.53h7.4M427.94,406.52h7.4M439.16,392.71V407.13M435.46,392.71h7.4M435.46,407.13h7.4M445.84,391.01V405.10M442.14,391.01h7.4M442.14,405.10h7.4M448.41,394.34V405.62M444.71,394.34h7.4M444.71,405.62h7.4M457.15,396.07V408.46M453.45,396.07h7.4M453.45,408.46h7.4M462.64,398.48V412.16M458.94,398.48h7.4M458.94,412.16h7.4M464.51,396.36V410.54M460.81,396.36h7.4M460.81,410.54h7.4M472.39,393.51V408.08M468.69,393.51h7.4M468.69,408.08h7.4M478.57,396.49V408.25M474.87,396.49h7.4M474.87,408.25h7.4M485.47,393.42V407.72M481.77,393.42h7.4M481.77,407.72h7.4M489.76,391.40V405.01M486.06,391.40h7.4M486.06,405.01h7.4M492.74,392.10V403.30M489.04,392.10h7.4M489.04,403.30h7.4M500.30,382.86V394.80M496.60,382.86h7.4M496.60,394.80h7.4M505.09,376.21V388.21M501.39,376.21h7.4M501.39,388.21h7.4M508.91,366.69V378.45M505.21,366.69h7.4M505.21,378.45h7.4M513.65,348.02V362.68M509.95,348.02h7.4M509.95,362.68h7.4M518.31,338.64V351.96M514.61,338.64h7.4M514.61,351.96h7.4M525.52,312.29V327.86M521.82,312.29h7.4M521.82,327.86h7.4M528.66,307.35V320.36M524.96,307.35h7.4M524.96,320.36h7.4M533.47,290.18V307.12M529.77,290.18h7.4M529.77,307.12h7.4M536.66,285.99V302.24M532.96,285.99h7.4M532.96,302.24h7.4M542.76,278.09V294.94M539.06,278.09h7.4M539.06,294.94h7.4M545.06,278.21V294.25M541.36,278.21h7.4M541.36,294.25h7.4M549.39,276.60V291.99M545.69,276.60h7.4M545.69,291.99h7.4M557.38,278.61V292.73M553.68,278.61h7.4M553.68,292.73h7.4M558.48,274.91V292.58M554.78,274.91h7.4M554.78,292.58h7.4M567.19,267.26V281.40M563.49,267.26h7.4M563.49,281.40h7.4M571.19,265.40V281.35M567.49,265.40h7.4M567.49,281.35h7.4M575.65,265.12V279.20M571.95,265.12h7.4M571.95,279.20h7.4M577.18,261.73V275.81M573.48,261.73h7.4M573.48,275.81h7.4M582.49,264.45V281.25M578.79,264.45h7.4M578.79,281.25h7.4M589.82,261.13V278.92M586.12,261.13h7.4M586.12,278.92h7.4M592.70,263.27V278.99M589.00,263.27h7.4M589.00,278.99h7.4M598.16,268.41V285.57M594.46,268.41h7.4M594.46,285.57h7.4M600.67,272.60V289.95M596.97,272.60h7.4M596.97,289.95h7.4M605.57,272.70V288.54M601.87,272.70h7.4M601.87,288.54h7.4M611.51,281.17V297.91M607.81,281.17h7.4M607.81,297.91h7.4M617.25,275.69V290.34M613.55,275.69h7.4M613.55,290.34h7.4M620.96,280.30V294.19M617.26,280.30h7.4M617.26,294.19h7.4M625.43,300.91V313.32M621.73,300.91h7.4M621.73,313.32h7.4" fill="none" stroke="#111" stroke-width="1.9"/>
<path d="M387.98,422.41 L389.03,422.35 L390.07,422.28 L391.11,422.22 L392.16,422.15 L393.20,422.08 L394.24,422.00 L395.29,421.93 L396.33,421.85 L397.37,421.77 L398.42,421.68 L399.46,421.59 L400.50,421.50 L401.55,421.41 L402.59,421.31 L403.63,421.20 L404.67,421.10 L405.72,420.98 L406.76,420.87 L407.80,420.75 L408.85,420.62 L409.89,420.49 L410.93,420.36 L411.98,420.22 L413.02,420.07 L414.06,419.92 L415.11,419.76 L416.15,419.60 L417.19,419.43 L418.24,419.26 L419.28,419.07 L420.32,418.89 L421.37,418.69 L422.41,418.49 L423.45,418.29 L424.49,418.07 L425.54,417.85 L426.58,417.62 L427.62,417.38 L428.67,417.14 L429.71,416.89 L430.75,416.63 L431.80,416.36 L432.84,416.08 L433.88,415.80 L434.93,415.50 L435.97,415.20 L437.01,414.89 L438.06,414.57 L439.10,414.24 L440.14,413.90 L441.19,413.55 L442.23,413.20 L443.27,412.83 L444.31,412.45 L445.36,412.06 L446.40,411.66 L447.44,411.25 L448.49,410.84 L449.53,410.41 L450.57,409.97 L451.62,409.51 L452.66,409.05 L453.70,408.58 L454.75,408.09 L455.79,407.59 L456.83,407.08 L457.88,406.57 L458.92,406.04 L459.96,405.51 L461.01,404.96 L462.05,404.41 L463.09,403.85 L464.13,403.29 L465.18,402.72 L466.22,402.15 L467.26,401.57 L468.31,400.99 L469.35,400.40 L470.39,399.82 L471.44,399.23 L472.48,398.64 L473.52,398.05 L474.57,397.46 L475.61,396.87 L476.65,396.28 L477.70,395.69 L478.74,395.11 L479.78,394.53 L480.83,393.95 L481.87,393.38 L482.91,392.82 L483.96,392.26 L485.00,391.70 L486.04,391.16 L487.08,390.62 L488.13,390.09 L489.17,389.56 L490.21,389.05 L491.26,388.55 L492.30,388.06 L493.34,387.58 L494.39,387.11 L495.43,386.66 L496.47,386.21 L497.52,385.79 L498.56,385.37 L499.60,384.98 L500.65,384.59 L501.69,384.23 L502.73,383.88 L503.78,383.55 L504.82,383.24 L505.86,382.94 L506.90,382.67 L507.95,382.42 L508.99,382.19 L510.03,381.98 L511.08,381.79 L512.12,381.62 L513.16,381.48 L514.21,381.36 L515.25,381.27 L516.29,381.20 L517.34,381.16 L518.38,381.14 L519.42,381.15 L520.47,381.18 L521.51,381.24 L522.55,381.32 L523.60,381.43 L524.64,381.56 L525.68,381.70 L526.72,381.88 L527.77,382.07 L528.81,382.28 L529.85,382.51 L530.90,382.76 L531.94,383.03 L532.98,383.31 L534.03,383.61 L535.07,383.93 L536.11,384.27 L537.16,384.62 L538.20,384.98 L539.24,385.36 L540.29,385.75 L541.33,386.15 L542.37,386.57 L543.42,386.99 L544.46,387.43 L545.50,387.88 L546.54,388.33 L547.59,388.80 L548.63,389.27 L549.67,389.76 L550.72,390.24 L551.76,390.74 L552.80,391.24 L553.85,391.75 L554.89,392.26 L555.93,392.77 L556.98,393.29 L558.02,393.81 L559.06,394.33 L560.11,394.86 L561.15,395.38 L562.19,395.91 L563.24,396.44 L564.28,396.96 L565.32,397.48 L566.36,398.00 L567.41,398.52 L568.45,399.04 L569.49,399.55 L570.54,400.05 L571.58,400.55 L572.62,401.05 L573.67,401.53 L574.71,402.01 L575.75,402.49 L576.80,402.95 L577.84,403.41 L578.88,403.85 L579.93,404.29 L580.97,404.71 L582.01,405.13 L583.06,405.54 L584.10,405.94 L585.14,406.33 L586.19,406.71 L587.23,407.08 L588.27,407.45 L589.31,407.80 L590.36,408.15 L591.40,408.49 L592.44,408.82 L593.49,409.14 L594.53,409.45 L595.57,409.76 L596.62,410.06 L597.66,410.35 L598.70,410.64 L599.75,410.91 L600.79,411.18 L601.83,411.45 L602.88,411.70 L603.92,411.95 L604.96,412.20 L606.01,412.43 L607.05,412.66 L608.09,412.89 L609.13,413.11 L610.18,413.32 L611.22,413.53 L612.26,413.73 L613.31,413.92 L614.35,414.11 L615.39,414.30 L616.44,414.48 L617.48,414.65 L618.52,414.82 L619.57,414.98 L620.61,415.15 L621.65,415.30 L622.70,415.45 L623.74,415.60 L624.78,415.74 L625.83,415.88 L626.87,416.02 L627.91,416.15 L628.95,416.28 L630.00,416.40 L631.04,416.52 L632.08,416.64 L633.13,416.75 L634.17,416.87 L635.21,416.97 L636.26,417.08 L637.30,417.18" fill="none" stroke="#41ac41" stroke-width="2.2" stroke-dasharray="4.5 1.5"/>
<path d="M387.98,418.11 L389.03,418.05 L390.07,417.99 L391.11,417.92 L392.16,417.84 L393.20,417.76 L394.24,417.67 L395.29,417.57 L396.33,417.47 L397.37,417.36 L398.42,417.25 L399.46,417.13 L400.50,417.00 L401.55,416.87 L402.59,416.73 L403.63,416.58 L404.67,416.43 L405.72,416.27 L406.76,416.10 L407.80,415.93 L408.85,415.75 L409.89,415.57 L410.93,415.37 L411.98,415.18 L413.02,414.97 L414.06,414.76 L415.11,414.54 L416.15,414.32 L417.19,414.09 L418.24,413.85 L419.28,413.60 L420.32,413.35 L421.37,413.09 L422.41,412.83 L423.45,412.56 L424.49,412.28 L425.54,411.99 L426.58,411.70 L427.62,411.40 L428.67,411.10 L429.71,410.78 L430.75,410.46 L431.80,410.14 L432.84,409.81 L433.88,409.46 L434.93,409.12 L435.97,408.76 L437.01,408.40 L438.06,408.03 L439.10,407.66 L440.14,407.28 L441.19,406.89 L442.23,406.49 L443.27,406.09 L444.31,405.68 L445.36,405.26 L446.40,404.83 L447.44,404.40 L448.49,403.96 L449.53,403.51 L450.57,403.06 L451.62,402.60 L452.66,402.13 L453.70,401.65 L454.75,401.17 L455.79,400.68 L456.83,400.18 L457.88,399.67 L458.92,399.16 L459.96,398.64 L461.01,398.11 L462.05,397.58 L463.09,397.04 L464.13,396.49 L465.18,395.93 L466.22,395.36 L467.26,394.79 L468.31,394.21 L469.35,393.62 L470.39,393.03 L471.44,392.42 L472.48,391.81 L473.52,391.19 L474.57,390.57 L475.61,389.93 L476.65,389.29 L477.70,388.64 L478.74,387.98 L479.78,387.32 L480.83,386.65 L481.87,385.96 L482.91,385.28 L483.96,384.58 L485.00,383.88 L486.04,383.16 L487.08,382.44 L488.13,381.71 L489.17,380.98 L490.21,380.23 L491.26,379.48 L492.30,378.72 L493.34,377.95 L494.39,377.18 L495.43,376.39 L496.47,375.60 L497.52,374.80 L498.56,373.99 L499.60,373.18 L500.65,372.35 L501.69,371.52 L502.73,370.68 L503.78,369.83 L504.82,368.97 L505.86,368.10 L506.90,367.23 L507.95,366.35 L508.99,365.45 L510.03,364.56 L511.08,363.65 L512.12,362.73 L513.16,361.81 L514.21,360.88 L515.25,359.94 L516.29,359.00 L517.34,358.05 L518.38,357.10 L519.42,356.14 L520.47,355.18 L521.51,354.21 L522.55,353.24 L523.60,352.26 L524.64,351.29 L525.68,350.30 L526.72,349.32 L527.77,348.34 L528.81,347.35 L529.85,346.37 L530.90,345.38 L531.94,344.39 L532.98,343.40 L534.03,342.42 L535.07,341.43 L536.11,340.45 L537.16,339.47 L538.20,338.49 L539.24,337.51 L540.29,336.53 L541.33,335.56 L542.37,334.60 L543.42,333.63 L544.46,332.68 L545.50,331.72 L546.54,330.78 L547.59,329.83 L548.63,328.90 L549.67,327.97 L550.72,327.05 L551.76,326.13 L552.80,325.23 L553.85,324.33 L554.89,323.44 L555.93,322.56 L556.98,321.69 L558.02,320.83 L559.06,319.97 L560.11,319.13 L561.15,318.31 L562.19,317.49 L563.24,316.68 L564.28,315.89 L565.32,315.11 L566.36,314.34 L567.41,313.59 L568.45,312.84 L569.49,312.12 L570.54,311.41 L571.58,310.71 L572.62,310.03 L573.67,309.36 L574.71,308.72 L575.75,308.08 L576.80,307.47 L577.84,306.87 L578.88,306.29 L579.93,305.73 L580.97,305.19 L582.01,304.66 L583.06,304.16 L584.10,303.68 L585.14,303.21 L586.19,302.77 L587.23,302.35 L588.27,301.94 L589.31,301.56 L590.36,301.20 L591.40,300.86 L592.44,300.55 L593.49,300.25 L594.53,299.98 L595.57,299.73 L596.62,299.50 L597.66,299.30 L598.70,299.12 L599.75,298.96 L600.79,298.82 L601.83,298.71 L602.88,298.62 L603.92,298.56 L604.96,298.52 L606.01,298.50 L607.05,298.51 L608.09,298.55 L609.13,298.61 L610.18,298.69 L611.22,298.80 L612.26,298.94 L613.31,299.10 L614.35,299.29 L615.39,299.50 L616.44,299.74 L617.48,300.01 L618.52,300.30 L619.57,300.62 L620.61,300.97 L621.65,301.35 L622.70,301.75 L623.74,302.18 L624.78,302.64 L625.83,303.13 L626.87,303.65 L627.91,304.19 L628.95,304.77 L630.00,305.37 L631.04,306.01 L632.08,306.67 L633.13,307.36 L634.17,308.08 L635.21,308.84 L636.26,309.62 L637.30,310.44" fill="none" stroke="#ea7d2c" stroke-width="2.2" stroke-dasharray="7.6 2.5"/>
<path d="M387.98,437.40 L389.03,437.40 L390.07,437.40 L391.11,437.40 L392.16,437.40 L393.20,437.40 L394.24,437.40 L395.29,437.40 L396.33,437.40 L397.37,437.40 L398.42,437.40 L399.46,437.40 L400.50,437.40 L401.55,437.40 L402.59,437.40 L403.63,437.40 L404.67,437.40 L405.72,437.40 L406.76,437.40 L407.80,437.40 L408.85,437.40 L409.89,437.40 L410.93,437.40 L411.98,437.40 L413.02,437.40 L414.06,437.40 L415.11,437.40 L416.15,437.40 L417.19,437.40 L418.24,437.40 L419.28,437.40 L420.32,437.40 L421.37,437.40 L422.41,437.40 L423.45,437.40 L424.49,437.40 L425.54,437.40 L426.58,437.40 L427.62,437.40 L428.67,437.40 L429.71,437.40 L430.75,437.40 L431.80,437.39 L432.84,437.39 L433.88,437.39 L434.93,437.39 L435.97,437.39 L437.01,437.39 L438.06,437.39 L439.10,437.39 L440.14,437.38 L441.19,437.38 L442.23,437.38 L443.27,437.37 L444.31,437.37 L445.36,437.37 L446.40,437.36 L447.44,437.35 L448.49,437.35 L449.53,437.34 L450.57,437.33 L451.62,437.32 L452.66,437.31 L453.70,437.29 L454.75,437.28 L455.79,437.26 L456.83,437.24 L457.88,437.21 L458.92,437.19 L459.96,437.15 L461.01,437.12 L462.05,437.07 L463.09,437.03 L464.13,436.97 L465.18,436.90 L466.22,436.83 L467.26,436.74 L468.31,436.64 L469.35,436.53 L470.39,436.40 L471.44,436.24 L472.48,436.07 L473.52,435.87 L474.57,435.64 L475.61,435.38 L476.65,435.07 L477.70,434.72 L478.74,434.32 L479.78,433.87 L480.83,433.34 L481.87,432.74 L482.91,432.05 L483.96,431.26 L485.00,430.36 L486.04,429.35 L487.08,428.17 L488.13,426.85 L489.17,425.35 L490.21,423.64 L491.26,421.72 L492.30,419.57 L493.34,417.12 L494.39,414.40 L495.43,411.39 L496.47,408.01 L497.52,404.28 L498.56,400.23 L499.60,395.75 L500.65,390.89 L501.69,385.72 L502.73,380.19 L503.78,374.26 L504.82,367.90 L505.86,360.91 L506.90,353.43 L507.95,345.79 L508.99,338.32 L510.03,330.80 L511.08,323.36 L512.12,316.42 L513.16,309.98 L514.21,303.91 L515.25,298.29 L516.29,293.15 L517.34,288.36 L518.38,283.81 L519.42,279.39 L520.47,275.09 L521.51,271.07 L522.55,267.45 L523.60,264.13 L524.64,261.06 L525.68,258.21 L526.72,255.50 L527.77,253.00 L528.81,250.83 L529.85,248.91 L530.90,247.13 L531.94,245.58 L532.98,244.29 L534.03,243.25 L535.07,242.32 L536.11,241.54 L537.16,240.92 L538.20,240.46 L539.24,240.04 L540.29,239.66 L541.33,239.34 L542.37,239.08 L543.42,238.89 L544.46,238.77 L545.50,238.69 L546.54,238.62 L547.59,238.55 L548.63,238.50 L549.67,238.45 L550.72,238.42 L551.76,238.40 L552.80,238.40 L553.85,238.40 L554.89,238.40 L555.93,238.40 L556.98,238.40 L558.02,238.40 L559.06,238.40 L560.11,238.40 L561.15,238.40 L562.19,238.40 L563.24,238.40 L564.28,238.40 L565.32,238.40 L566.36,238.40 L567.41,238.40 L568.45,238.40 L569.49,238.40 L570.54,238.40 L571.58,238.40 L572.62,238.40 L573.67,238.40 L574.71,238.40 L575.75,238.40 L576.80,238.40 L577.84,238.40 L578.88,238.40 L579.93,238.40 L580.97,238.40 L582.01,238.40 L583.06,238.40 L584.10,238.40 L585.14,238.40 L586.19,238.40 L587.23,238.40 L588.27,238.40 L589.31,238.40 L590.36,238.40 L591.40,238.40 L592.44,238.40 L593.49,238.40 L594.53,238.40 L595.57,238.40 L596.62,238.40 L597.66,238.40 L598.70,238.40 L599.75,238.40 L600.79,238.40 L601.83,238.40 L602.88,238.40 L603.92,238.40 L604.96,238.40 L606.01,238.40 L607.05,238.40 L608.09,238.40 L609.13,238.40 L610.18,238.40 L611.22,238.40 L612.26,238.40 L613.31,238.40 L614.35,238.40 L615.39,238.40 L616.44,238.40 L617.48,238.40 L618.52,238.40 L619.57,238.40 L620.61,238.40 L621.65,238.40 L622.70,238.40 L623.74,238.40 L624.78,238.40 L625.83,238.40 L626.87,238.40 L627.91,238.40 L628.95,238.40 L630.00,238.40 L631.04,238.40 L632.08,238.40 L633.13,238.40 L634.17,238.40 L635.21,238.40 L636.26,238.40 L637.30,238.40" fill="none" stroke="#8a55b0" stroke-width="2.1" stroke-dasharray="11.6 2.3 3.1 2.3"/>
<path d="M59.30,422.07 L60.46,422.08 L61.62,422.08 L62.77,422.08 L63.93,422.07 L65.09,422.07 L66.25,422.06 L67.41,422.05 L68.57,422.03 L69.72,422.02 L70.88,421.99 L72.04,421.97 L73.20,421.94 L74.36,421.92 L75.52,421.88 L76.67,421.85 L77.83,421.81 L78.99,421.77 L80.15,421.72 L81.31,421.67 L82.47,421.62 L83.62,421.57 L84.78,421.51 L85.94,421.45 L87.10,421.38 L88.26,421.31 L89.42,421.24 L90.57,421.16 L91.73,421.08 L92.89,421.00 L94.05,420.92 L95.21,420.82 L96.37,420.73 L97.52,420.63 L98.68,420.53 L99.84,420.43 L101.00,420.32 L102.16,420.20 L103.32,420.09 L104.47,419.97 L105.63,419.84 L106.79,419.71 L107.95,419.58 L109.11,419.44 L110.27,419.30 L111.42,419.15 L112.58,419.00 L113.74,418.85 L114.90,418.69 L116.06,418.53 L117.22,418.36 L118.37,418.19 L119.53,418.01 L120.69,417.83 L121.85,417.65 L123.01,417.46 L124.17,417.26 L125.32,417.06 L126.48,416.86 L127.64,416.65 L128.80,416.44 L129.96,416.22 L131.12,416.00 L132.27,415.77 L133.43,415.54 L134.59,415.30 L135.75,415.06 L136.91,414.81 L138.07,414.56 L139.22,414.31 L140.38,414.04 L141.54,413.78 L142.70,413.50 L143.86,413.23 L145.02,412.94 L146.17,412.65 L147.33,412.36 L148.49,412.06 L149.65,411.76 L150.81,411.45 L151.97,411.13 L153.12,410.81 L154.28,410.49 L155.44,410.16 L156.60,409.82 L157.76,409.48 L158.92,409.13 L160.07,408.77 L161.23,408.41 L162.39,408.05 L163.55,407.68 L164.71,407.30 L165.87,406.92 L167.02,406.53 L168.18,406.13 L169.34,405.73 L170.50,405.32 L171.66,404.91 L172.82,404.49 L173.97,404.07 L175.13,403.63 L176.29,403.20 L177.45,402.75 L178.61,402.30 L179.76,401.85 L180.92,401.38 L182.08,400.92 L183.24,400.45 L184.40,399.97 L185.56,399.49 L186.71,399.01 L187.87,398.52 L189.03,398.03 L190.19,397.54 L191.35,397.05 L192.51,396.55 L193.66,396.05 L194.82,395.56 L195.98,395.06 L197.14,394.56 L198.30,394.06 L199.46,393.56 L200.61,393.07 L201.77,392.57 L202.93,392.08 L204.09,391.59 L205.25,391.10 L206.41,390.61 L207.56,390.13 L208.72,389.65 L209.88,389.18 L211.04,388.71 L212.20,388.24 L213.36,387.78 L214.51,387.33 L215.67,386.88 L216.83,386.44 L217.99,386.00 L219.15,385.58 L220.31,385.16 L221.46,384.74 L222.62,384.34 L223.78,383.94 L224.94,383.56 L226.10,383.18 L227.26,382.81 L228.41,382.46 L229.57,382.11 L230.73,381.78 L231.89,381.45 L233.05,381.14 L234.21,380.84 L235.36,380.55 L236.52,380.27 L237.68,380.00 L238.84,379.75 L240.00,379.50 L241.16,379.26 L242.31,379.04 L243.47,378.82 L244.63,378.62 L245.79,378.42 L246.95,378.24 L248.11,378.06 L249.26,377.89 L250.42,377.74 L251.58,377.59 L252.74,377.45 L253.90,377.33 L255.06,377.21 L256.21,377.10 L257.37,376.99 L258.53,376.90 L259.69,376.82 L260.85,376.74 L262.01,376.67 L263.16,376.61 L264.32,376.56 L265.48,376.52 L266.64,376.48 L267.80,376.45 L268.96,376.43 L270.11,376.42 L271.27,376.42 L272.43,376.42 L273.59,376.43 L274.75,376.44 L275.91,376.46 L277.06,376.49 L278.22,376.53 L279.38,376.57 L280.54,376.62 L281.70,376.68 L282.86,376.74 L284.01,376.80 L285.17,376.88 L286.33,376.96 L287.49,377.04 L288.65,377.13 L289.81,377.23 L290.96,377.33 L292.12,377.43 L293.28,377.54 L294.44,377.66 L295.60,377.78 L296.75,377.91 L297.91,378.03 L299.07,378.17 L300.23,378.31 L301.39,378.45 L302.55,378.60 L303.70,378.75 L304.86,378.90 L306.02,379.06 L307.18,379.22 L308.34,379.39 L309.50,379.56 L310.65,379.73 L311.81,379.90 L312.97,380.08 L314.13,380.26 L315.29,380.44 L316.45,380.63 L317.60,380.82 L318.76,381.01 L319.92,381.20 L321.08,381.40 L322.24,381.59 L323.40,381.79 L324.55,381.99 L325.71,382.19 L326.87,382.40 L328.03,382.60 L329.19,382.81 L330.35,383.02 L331.50,383.22 L332.66,383.43 L333.82,383.64 L334.98,383.86 L336.14,384.07 L337.30,384.28 L338.45,384.49 L339.61,384.71 L340.77,384.92 L341.93,385.14 L343.09,385.36 L344.25,385.57 L345.40,385.79 L346.56,386.01 L347.72,386.23 L348.88,386.45 L350.04,386.67 L351.20,386.89 L352.35,387.11 L353.51,387.33 L354.67,387.56 L355.83,387.78 L356.99,388.00 L358.15,388.22 L359.30,388.45 L360.46,388.67 L361.62,388.89 L362.78,389.12 L363.94,389.34 L365.10,389.57 L366.25,389.79 L367.41,390.01 L368.57,390.24 L369.73,390.46 L370.89,390.69 L372.05,390.91 L373.20,391.13 L374.36,391.36 L375.52,391.58 L376.68,391.80 L377.84,392.03 L379.00,392.25 L380.15,392.47 L381.31,392.69 L382.47,392.92 L383.63,393.14 L384.79,393.36 L385.95,393.58 L387.10,393.80 L388.26,394.02 L389.42,394.23 L390.58,394.45 L391.74,394.67 L392.90,394.89 L394.05,395.10 L395.21,395.32 L396.37,395.53 L397.53,395.74 L398.69,395.96 L399.85,396.17 L401.00,396.38 L402.16,396.59 L403.32,396.80 L404.48,397.01 L405.64,397.21 L406.79,397.42 L407.95,397.63 L409.11,397.83 L410.27,398.03 L411.43,398.23 L412.59,398.43 L413.74,398.63 L414.90,398.83 L416.06,399.03 L417.22,399.22 L418.38,399.41 L419.54,399.61 L420.69,399.80 L421.85,399.99 L423.01,400.17 L424.17,400.36 L425.33,400.55 L426.49,400.73 L427.64,400.91 L428.80,401.09 L429.96,401.27 L431.12,401.44 L432.28,401.62 L433.44,401.79 L434.59,401.96 L435.75,402.13 L436.91,402.30 L438.07,402.46 L439.23,402.63 L440.39,402.79 L441.54,402.95 L442.70,403.10 L443.86,403.26 L445.02,403.41 L446.18,403.56 L447.34,403.71 L448.49,403.85 L449.65,404.00 L450.81,404.14 L451.97,404.27 L453.13,404.41 L454.29,404.54 L455.44,404.67 L456.60,404.80 L457.76,404.92 L458.92,405.04 L460.08,405.15 L461.24,405.27 L462.39,405.37 L463.55,405.47 L464.71,405.57 L465.87,405.66 L467.03,405.75 L468.19,405.83 L469.34,405.90 L470.50,405.96 L471.66,406.01 L472.82,406.06 L473.98,406.08 L475.14,406.10 L476.29,406.10 L477.45,406.07 L478.61,406.02 L479.77,405.95 L480.93,405.84 L482.09,405.70 L483.24,405.51 L484.40,405.27 L485.56,404.98 L486.72,404.61 L487.88,404.17 L489.04,403.64 L490.19,402.99 L491.35,402.23 L492.51,401.35 L493.67,400.29 L494.83,399.08 L495.99,397.68 L497.14,396.06 L498.30,394.24 L499.46,392.17 L500.62,389.84 L501.78,387.29 L502.94,384.49 L504.09,381.40 L505.25,377.99 L506.41,374.16 L507.57,370.07 L508.73,365.92 L509.89,361.70 L511.04,357.40 L512.20,353.29 L513.36,349.37 L514.52,345.61 L515.68,342.06 L516.84,338.72 L517.99,335.51 L519.15,332.36 L520.31,329.25 L521.47,326.27 L522.63,323.50 L523.78,320.90 L524.94,318.44 L526.10,316.10 L527.26,313.85 L528.42,311.76 L529.58,309.88 L530.73,308.10 L531.89,306.46 L533.05,305.01 L534.21,303.71 L535.37,302.51 L536.53,301.42 L537.68,300.47 L538.84,299.59 L540.00,298.75 L541.16,297.97 L542.32,297.24 L543.48,296.57 L544.63,295.98 L545.79,295.42 L546.95,294.88 L548.11,294.37 L549.27,293.87 L550.43,293.41 L551.58,292.96 L552.74,292.55 L553.90,292.15 L555.06,291.77 L556.22,291.40 L557.38,291.04 L558.53,290.70 L559.69,290.38 L560.85,290.06 L562.01,289.76 L563.17,289.48 L564.33,289.20 L565.48,288.94 L566.64,288.69 L567.80,288.46 L568.96,288.23 L570.12,288.02 L571.28,287.81 L572.43,287.62 L573.59,287.44 L574.75,287.27 L575.91,287.11 L577.07,286.96 L578.23,286.82 L579.38,286.68 L580.54,286.56 L581.70,286.45 L582.86,286.35 L584.02,286.26 L585.18,286.19 L586.33,286.12 L587.49,286.07 L588.65,286.04 L589.81,286.02 L590.97,286.01 L592.13,286.02 L593.28,286.05 L594.44,286.09 L595.60,286.14 L596.76,286.22 L597.92,286.31 L599.08,286.42 L600.23,286.55 L601.39,286.69 L602.55,286.86 L603.71,287.04 L604.87,287.25 L606.03,287.47 L607.18,287.72 L608.34,287.98 L609.50,288.27 L610.66,288.58 L611.82,288.91 L612.98,289.27 L614.13,289.64 L615.29,290.04 L616.45,290.47 L617.61,290.92 L618.77,291.40 L619.93,291.90 L621.08,292.42 L622.24,292.97 L623.40,293.55 L624.56,294.16 L625.72,294.79 L626.88,295.45 L628.03,296.14 L629.19,296.86 L630.35,297.61 L631.51,298.39 L632.67,299.19 L633.83,300.03 L634.98,300.90 L636.14,301.80 L637.30,302.73" fill="none" stroke="#e3262a" stroke-width="2.6" stroke-linecap="round" stroke-dasharray="1.4 8.6"/></g>
<rect x="59.2" y="5.5" width="578" height="215.1" fill="none" stroke="#1a1a1a" stroke-width="2"/>
<rect x="59.2" y="230.6" width="578" height="215.3" fill="none" stroke="#1a1a1a" stroke-width="2"/>
<text x="52.3" y="217.85" font-size="14" text-anchor="end">0.00</text>
<text x="52.3" y="176.40" font-size="14" text-anchor="end">0.05</text>
<text x="52.3" y="134.95" font-size="14" text-anchor="end">0.10</text>
<text x="52.3" y="93.50" font-size="14" text-anchor="end">0.15</text>
<text x="52.3" y="52.05" font-size="14" text-anchor="end">0.20</text>
<text x="52.3" y="10.60" font-size="14" text-anchor="end">0.25</text>
<text x="643.5" y="217.70" font-size="14">0.0</text>
<text x="643.5" y="18.90" font-size="14">1.0</text>
<text x="52.3" y="442.50" font-size="14" text-anchor="end">0.00</text>
<text x="52.3" y="401.14" font-size="14" text-anchor="end">0.05</text>
<text x="52.3" y="359.78" font-size="14" text-anchor="end">0.10</text>
<text x="52.3" y="318.42" font-size="14" text-anchor="end">0.15</text>
<text x="52.3" y="277.06" font-size="14" text-anchor="end">0.20</text>
<text x="52.3" y="235.70" font-size="14" text-anchor="end">0.25</text>
<text x="643.5" y="442.50" font-size="14">0.0</text>
<text x="643.5" y="243.50" font-size="14">1.0</text>
<text x="59.30" y="465.7" font-size="14" text-anchor="middle">100</text>
<text x="167.92" y="465.7" font-size="14" text-anchor="middle">150</text>
<text x="276.54" y="465.7" font-size="14" text-anchor="middle">200</text>
<text x="385.16" y="465.7" font-size="14" text-anchor="middle">250</text>
<text x="493.78" y="465.7" font-size="14" text-anchor="middle">300</text>
<text x="602.40" y="465.7" font-size="14" text-anchor="middle">350</text>
<path d="M54.8,212.75H59.2M54.8,171.30H59.2M54.8,129.85H59.2M54.8,88.40H59.2M54.8,46.95H59.2M54.8,5.50H59.2M637.2,212.60H641.7M637.2,13.80H641.7M54.8,437.40H59.2M54.8,396.04H59.2M54.8,354.68H59.2M54.8,313.32H59.2M54.8,271.96H59.2M54.8,230.60H59.2M637.2,437.40H641.7M637.2,238.40H641.7M59.30,445.9V451.8M59.30,220.6V215.3M167.92,445.9V451.8M167.92,220.6V215.3M276.54,445.9V451.8M276.54,220.6V215.3M385.16,445.9V451.8M385.16,220.6V215.3M493.78,445.9V451.8M493.78,220.6V215.3M602.40,445.9V451.8M602.40,220.6V215.3" stroke="#1a1a1a" stroke-width="1.05" fill="none"/>
<text x="349.0" y="483.8" font-size="16.8" text-anchor="middle"><tspan font-style="italic">T</tspan> (K)</text>
<text transform="translate(13.6,240.8) rotate(-90)" font-size="16.8" text-anchor="middle">Intensity (a.u.)</text>
<text transform="translate(671.3,241.3) rotate(90)" font-size="16.8" text-anchor="middle">Phase fraction (FCC)</text>
<text x="63.6" y="35.6" font-size="40" font-weight="bold" fill="#1a1a1a">a</text>
<text x="65.5" y="265.2" font-size="40" font-weight="bold" fill="#1a1a1a">b</text>
<path d="M168.8,221 L178.7,215.4 L178.7,226.6 Z" fill="#1a1a1a"/>
<text x="190.8" y="216.0" font-size="12.7">Cooling</text>
<path d="M276.8,445.6 L266.3,440 L266.3,451.3 Z" fill="#1a1a1a"/>
<text x="211.2" y="440.9" font-size="12.7">Heating</text>
<path d="M456.7,107.2V52" stroke="#1a1a1a" stroke-width="1.5"/>
<path d="M456.8,45.6 L461.1,53 L452.5,53 Z" fill="#1a1a1a"/>
<text x="441.0" y="35.5" font-size="17.6" font-style="italic">T</text><text x="450.6" y="41.2" font-size="13.9">sc</text>
<path d="M509,330.7V293" stroke="#1a1a1a" stroke-width="1.5"/>
<path d="M509.1,286.8 L513.2,294 L505.0,294 Z" fill="#1a1a1a"/>
<text x="497.3" y="279.2" font-size="17.6" font-style="italic">T</text><text x="506.9" y="284.6" font-size="10.4">0</text>
<text x="243.3" y="178.9" font-size="12.7" style="fill:#3a7bbd">Mode 1</text>
<text x="243.3" y="193.6" font-size="12.7" fill="#3a7bbd" style="fill:#3a7bbd"><tspan font-style="italic">E</tspan><tspan font-size="7.8" dy="4.1">a</tspan><tspan dy="-4.1"> = 94 ± 1 meV</tspan></text>
<text x="534.0" y="130.5" font-size="12.7" style="fill:#ea7d2c">Mode 3</text>
<text x="534.0" y="145.6" font-size="12.7" fill="#ea7d2c" style="fill:#ea7d2c"><tspan font-style="italic">E</tspan><tspan font-size="7.8" dy="4.1">a</tspan><tspan dy="-4.1"> = 300 ± 3 meV</tspan></text>
<text x="495.8" y="198.0" font-size="12.7" style="fill:#41ac41">Mode 2</text>
<text x="495.8" y="212.9" font-size="12.7" fill="#41ac41" style="fill:#41ac41"><tspan font-style="italic">E</tspan><tspan font-size="7.8" dy="4.1">a</tspan><tspan dy="-4.1"> = 460 ± 5 meV</tspan></text>
<rect x="168.4" y="19.7" width="216.9" height="83.8" fill="#fff" stroke="#1a1a1a" stroke-width="1.3"/>
<path d="M169.20,93.70 L181.80,87.80 L192.70,81.10 L198.60,76.10 L207.00,70.20 L215.40,66.00 L223.80,60.10 L232.10,55.90 L240.50,52.60 L248.90,48.70 L257.30,47.60 L265.70,46.40 L280.00,46.40 L295.50,47.10 L302.20,49.20 L308.90,51.80 L319.00,54.30 L325.70,55.10 L334.10,59.30 L342.50,61.80 L350.90,66.00 L361.00,70.20 L369.40,73.60 L377.80,76.60 L383.60,76.10 L385.30,76.80" fill="none" stroke="#a8a8a8" stroke-width="1.5" stroke-linejoin="round"/>
<path d="M168.40,96.40 L175.10,94.60 L181.80,91.20 L190.20,87.00 L198.60,82.80 L205.30,79.00 L210.30,77.80 L215.40,74.40 L222.10,73.60 L228.80,67.70 L235.50,65.20 L242.20,62.70 L247.30,61.50 L254.00,59.30 L260.70,58.50 L265.70,58.80 L270.80,56.50 L285.40,56.50 L289.60,59.80 L297.20,57.60 L302.20,58.80 L308.90,58.50 L314.00,61.50 L319.00,61.00 L325.70,64.80 L335.80,67.20 L340.80,69.40 L345.00,73.20 L348.40,70.60 L355.90,73.60 L361.00,75.30 L365.20,77.80 L372.70,77.30 L385.30,82.30" fill="none" stroke="#111" stroke-width="1.7" stroke-linejoin="round"/>
<path d="M168.4,103.5V101 M276.9,103.5V101.3 M385.3,103.5V101" stroke="#1a1a1a" stroke-width="1.2"/>
<path d="M176.6,26.9H205.9" stroke="#111" stroke-width="2.4"/>
<path d="M176.6,40.2H205.9" stroke="#a8a8a8" stroke-width="2.4"/>
<text x="211.0" y="32.6" font-size="12.4">NPG-PG-PE</text>
<text x="211.0" y="45.5" font-size="12.4">NPG</text>
<text x="276.3" y="77.1" font-size="12.4" text-anchor="middle">Peak ratio:</text>
<text x="246.2" y="91.7" font-size="12.1">0.76</text><text x="276.2" y="91.7" font-size="11.2" text-anchor="middle">±</text><text x="282.9" y="91.7" font-size="11.6">0.02</text>
<text x="168.4" y="115.8" font-size="12.4" text-anchor="middle">150</text>
<text x="276.9" y="115.8" font-size="12.4" text-anchor="middle">200</text>
<text x="385.3" y="115.8" font-size="12.4" text-anchor="middle">250</text>
<text x="277.2" y="127.2" font-size="12.4" text-anchor="middle"><tspan font-style="italic">T</tspan> (K)</text>
<path d="M118.8,292.5H140.9" stroke="#111" stroke-width="2.3" fill="none"/><path d="M130,285.3V299.6 M126.9,285.3H133.1 M126.9,299.6H133.1" stroke="#111" stroke-width="1.6" fill="none"/>
<text x="145.8" y="296.5" font-size="14">IFWS data</text>
<path d="M118.6,320.3H141.1" stroke="#8a55b0" stroke-width="2.2" stroke-dasharray="6.7 1.8 3.3 2.6 8.3 5"/>
<text x="147.0" y="323.8" font-size="14"><tspan font-style="italic">Φ</tspan><tspan font-size="8.2" dx="0.2" dy="4.8">FCC</tspan></text>
<path d="M119.9,344.9H141.6" stroke="#e3262a" stroke-width="2.6" stroke-linecap="round" stroke-dasharray="1.2 8.5"/>
<text x="146.8" y="348.0" font-size="14"><tspan font-style="italic">S</tspan>(<tspan font-style="italic">T</tspan>)</text>
<path d="M222.9,292.6H252.9" stroke="#3a7bbd" stroke-width="2.2"/>
<path d="M222.9,318.8H250.6" stroke="#41ac41" stroke-width="2.2" stroke-dasharray="4.3 1.6"/>
<path d="M222.9,345.1H250.6" stroke="#ea7d2c" stroke-width="2.2" stroke-dasharray="7.6 2.4"/>
<text x="258.6" y="296.6" font-size="14">Mode 1: methyl rotation</text>
<text x="258.6" y="322.6" font-size="14">Mode 2: hydroxymethyl rotation</text>
<text x="258.6" y="348.5" font-size="14">Mode 3: molecular reorientation</text>
</svg></body></html>
